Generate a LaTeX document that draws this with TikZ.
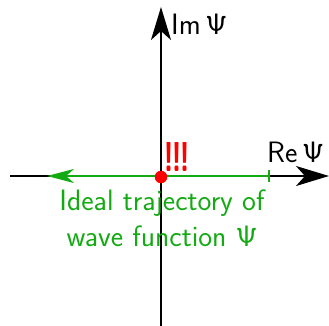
\RequirePackage{fix-cm}
\documentclass[tikz,border=0pt]{standalone}
\usepackage{amsmath,amssymb}
\usepackage{graphicx}
\usepackage{xcolor}
\usetikzlibrary{arrows.meta,positioning,calc}
\definecolor{trajgreen}{RGB}{20,170,20}

\begin{document}
\begin{tikzpicture}[x=1pt, y=-1pt]
    \tikzstyle{axis} = [draw=black, line width=2pt, -{Stealth[length=33pt, width=20pt, inset=9pt]}]
    \tikzstyle{traj} = [draw=trajgreen, line width=2.4pt, {Stealth[length=27pt, width=14pt, inset=8pt]}-|]
    \tikzstyle{label} = [inner sep=0pt, font=\sffamily\fontsize{29.5}{36}\selectfont]

    \useasboundingbox (0,0) rectangle (329,326);

    \coordinate (xl) at (10,176);
    \coordinate (xr) at (329,176);
    \coordinate (yb) at (161,326);
    \coordinate (yt) at (161,7);
    \coordinate (gl) at (47,176);
    \coordinate (gr) at (270,176);

    \draw [axis] (xl) -- (xr);
    \draw [traj] (gl) -- (gr);
    \draw [axis] (yb) -- (yt);

    \node [circle, fill=red, inner sep=0pt, minimum size=12.5pt] (origin) at (161,177) {};

    \node [label, anchor=base west] (imlabel) at (171,35) {Im\,$\mathsf{\Psi}$};
    \node [label, anchor=base west] (relabel) at (267,162) {Re\,$\mathsf{\Psi}$};
    \node [inner sep=0pt, anchor=base west, text=red] (alert) at (163,171) {\resizebox{27pt}{29pt}{\sffamily\bfseries !\kern-1pt!\kern-1pt!}};
    \node [label, text=trajgreen, align=center, anchor=north] (caption) at (162,190) {Ideal trajectory of\\wave function $\mathsf{\Psi}$};
\end{tikzpicture}
\end{document}
